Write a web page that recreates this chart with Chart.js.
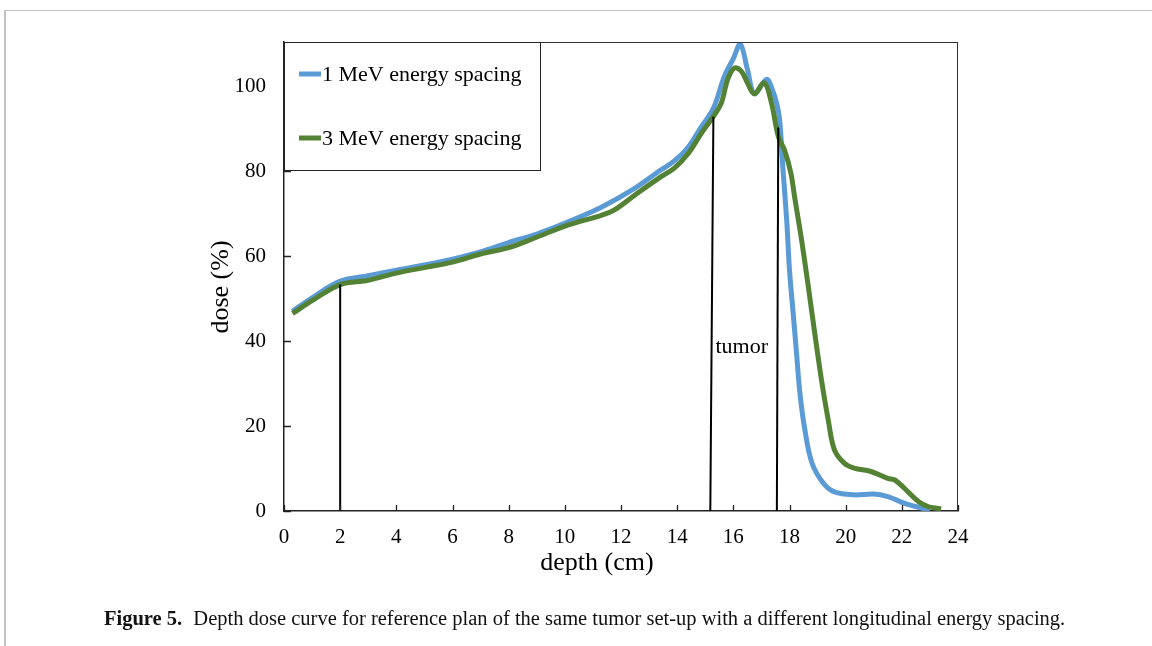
<!DOCTYPE html>
<html>
<head>
<meta charset="utf-8">
<script src="https://cdn.jsdelivr.net/npm/chart.js@4.4.1/dist/chart.umd.min.js"></script>
<style>
  html, body { margin: 0; padding: 0; background: #fff; }
  #wrap { position: relative; width: 1152px; height: 646px; overflow: hidden; }
  #frame { position: absolute; left: 4px; top: 10px; right: -4px; bottom: -4px; border-top: 1px solid #c4c4c4; border-left: 2px solid #c4c4c4; }
  canvas { position: absolute; left: 0; top: 0; }
  #caption { position: absolute; left: 104px; top: 607px; font-family: "Liberation Serif", serif; font-size: 20.5px; color: #111; white-space: nowrap; }
  #caption b { margin-right: 6px; }
</style>
</head>
<body>
<div id="wrap">
  <div id="frame"></div>
  <canvas id="c" width="1152" height="646"></canvas>
  <div id="caption"><b>Figure 5.</b> Depth dose curve for reference plan of the same tumor set-up with a different longitudinal energy spacing.</div>
</div>
<script>
// 数据：深度 (cm) 与剂量 (%)
const depth1 = [0.3, 1.0, 2.0, 3.0, 4.0, 5.0, 6.0, 7.0, 8.0, 9.0, 10.1, 11.3, 12.5, 13.4, 13.9, 14.4, 14.86, 15.29, 15.68, 16.0, 16.25, 16.5, 16.75, 17.18, 17.4, 17.54, 17.65, 17.77, 17.9, 18.0, 18.13, 18.25, 18.37, 18.55, 18.8, 19.2, 19.6, 20.3, 21.0, 21.5, 22.1, 22.7, 23.0];
const dose1  = [47.0, 50.2, 54.1, 55.4, 56.7, 57.9, 59.3, 61.0, 63.2, 65.2, 68.0, 71.5, 76.0, 80.2, 82.4, 85.7, 90.4, 94.8, 102.3, 106.5, 109.9, 104.0, 98.2, 101.6, 99.0, 96.0, 92.0, 80.2, 68.5, 56.7, 46.6, 37.2, 27.8, 19.0, 11.3, 6.6, 4.5, 3.8, 4.0, 3.4, 1.8, 0.7, 0.2];

const depth3 = [0.3, 1.0, 2.0, 3.0, 4.0, 5.0, 6.0, 7.0, 8.0, 8.9, 10.1, 11.3, 11.75, 12.5, 13.4, 13.9, 14.4, 14.86, 15.29, 15.57, 15.8, 16.04, 16.29, 16.5, 16.75, 17.1, 17.36, 17.6, 17.82, 18.05, 18.18, 18.43, 18.67, 18.9, 19.14, 19.38, 19.6, 19.96, 20.3, 20.9, 21.5, 21.75, 22.1, 22.6, 22.95, 23.3, 23.4];
const dose3  = [46.5, 49.5, 53.3, 54.3, 56.0, 57.3, 58.6, 60.5, 62.0, 64.2, 67.3, 69.6, 70.8, 74.4, 78.6, 80.7, 84.2, 88.9, 92.9, 96.0, 101.6, 104.3, 103.5, 100.8, 98.2, 100.8, 96.0, 88.2, 85.0, 79.5, 74.0, 63.8, 52.8, 41.8, 30.8, 21.4, 14.4, 11.2, 10.1, 9.3, 7.7, 7.3, 5.3, 2.2, 1.0, 0.6, 0.5];

// 标记线（入口、肿瘤边界）
const markerA = [[2.0, 0], [2.0, 53.3]];
const markerB = [[15.18, 0], [15.29, 92.8]];
const markerC = [[17.55, 0], [17.6, 90.3]];

const xTicks = [0, 2, 4, 6, 8, 10, 12, 14, 16, 18, 20, 22, 24];
const yTicks = [0, 20, 40, 60, 80, 100];

const seriesNames = ['1 MeV energy spacing', '3 MeV energy spacing'];
const seriesColors = ['#5B9BD5', '#548235'];

const SERIF = '"Liberation Serif", "Times New Roman", serif';

function pts(xs, ys) { return xs.map((x, i) => ({ x: x, y: ys[i] })); }
function pairPts(arr) { return arr.map(p => ({ x: p[0], y: p[1] })); }

const lineSet = (d) => ({ data: pairPts(d), borderColor: '#000', borderWidth: 2, pointRadius: 0, tension: 0, order: 0 });

// 边框、内向刻度、轴标题、图例
const decor = {
  id: 'decor',
  afterDraw(chart) {
    const ctx = chart.ctx;
    const a = chart.chartArea;
    const xs = chart.scales.x, ys = chart.scales.y;
    ctx.save();
    ctx.strokeStyle = '#333';
    ctx.lineWidth = 1;
    ctx.beginPath();
    ctx.moveTo(a.left, a.top + 0.5); ctx.lineTo(a.right, a.top + 0.5);
    ctx.moveTo(a.right - 0.5, a.top); ctx.lineTo(a.right - 0.5, a.bottom);
    ctx.stroke();

    ctx.strokeStyle = '#222';
    ctx.lineWidth = 1.3;
    ctx.beginPath();
    yTicks.forEach(v => {
      const y = Math.round(ys.getPixelForValue(v)) + 0.5;
      ctx.moveTo(a.left, y); ctx.lineTo(a.left + 7, y);
    });
    xTicks.forEach(v => {
      const x = Math.round(xs.getPixelForValue(v)) + 0.5;
      ctx.moveTo(x, a.bottom); ctx.lineTo(x, a.bottom - 6);
    });
    ctx.stroke();

    // 轴标题
    ctx.fillStyle = '#000';
    ctx.font = '26px ' + SERIF;
    ctx.textAlign = 'center';
    ctx.textBaseline = 'middle';
    ctx.fillText('depth (cm)', (a.left + a.right) / 2 - 24, 563);
    ctx.save();
    ctx.translate(221, 287);
    ctx.rotate(-Math.PI / 2);
    ctx.fillText('dose (%)', 0, 0);
    ctx.restore();

    // 肿瘤标注
    ctx.font = '22px ' + SERIF;
    ctx.fillText('tumor', xs.getPixelForValue(16.3), ys.getPixelForValue(38.6));

    // 图例框
    const lx = a.left, ly = a.top, lw = 256, lh = 128;
    ctx.fillStyle = '#fff';
    ctx.fillRect(lx, ly, lw, lh);
    ctx.strokeStyle = '#222';
    ctx.lineWidth = 1;
    ctx.strokeRect(lx + 0.5, ly + 0.5, lw, lh);
    ctx.textAlign = 'left';
    ctx.font = '22px ' + SERIF;
    [74, 138].forEach((yy, i) => {
      ctx.strokeStyle = seriesColors[i];
      ctx.lineWidth = 5;
      ctx.beginPath();
      ctx.moveTo(lx + 15, yy); ctx.lineTo(lx + 37, yy);
      ctx.stroke();
      ctx.fillStyle = '#000';
      ctx.fillText(seriesNames[i], lx + 38, yy + 1);
    });
    ctx.restore();
  }
};

new Chart(document.getElementById('c'), {
  type: 'line',
  data: {
    datasets: [
      { label: seriesNames[1], data: pts(depth3, dose3), borderColor: seriesColors[1], borderWidth: 5, pointRadius: 0, tension: 0.35, order: 1 },
      { label: seriesNames[0], data: pts(depth1, dose1), borderColor: seriesColors[0], borderWidth: 5, pointRadius: 0, tension: 0.35, order: 2 },
      lineSet(markerA),
      lineSet(markerB),
      lineSet(markerC)
    ]
  },
  options: {
    responsive: false,
    animation: false,
    layout: { padding: { top: 42, right: 194, left: 0, bottom: 0 } },
    plugins: { legend: { display: false }, tooltip: { enabled: false } },
    scales: {
      x: {
        type: 'linear', min: 0, max: 24,
        grid: { display: false, drawTicks: false },
        border: { display: true, color: '#222', width: 1.5 },
        ticks: { padding: 14, color: '#000', font: { family: SERIF, size: 21 } },
        afterBuildTicks: s => { s.ticks = xTicks.map(v => ({ value: v })); },
        afterFit: s => { s.height = 135; }
      },
      y: {
        type: 'linear', min: 0, max: 110.4,
        grid: { display: false, drawTicks: false },
        border: { display: true, color: '#222', width: 1.5 },
        ticks: { padding: 18, color: '#000', font: { family: SERIF, size: 21 } },
        afterBuildTicks: s => { s.ticks = yTicks.map(v => ({ value: v })); },
        afterFit: s => { s.width = 284; }
      }
    }
  },
  plugins: [decor]
});
</script>
</body>
</html>
